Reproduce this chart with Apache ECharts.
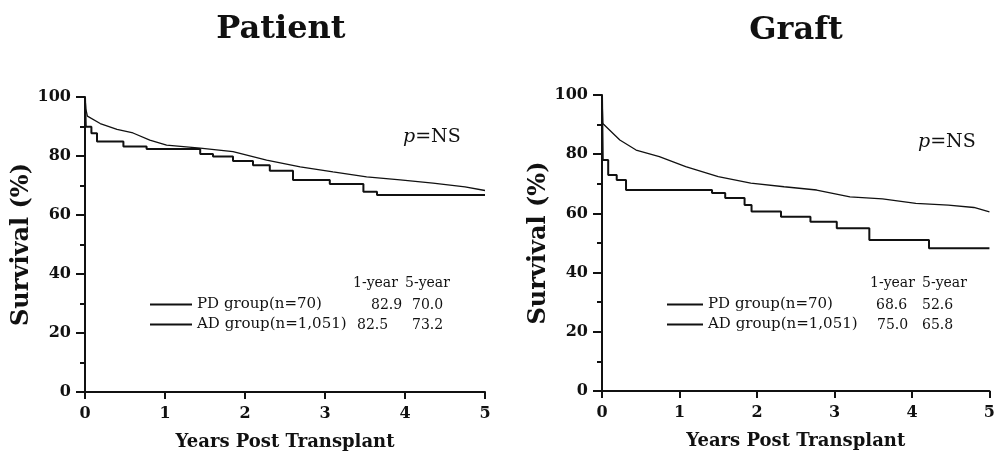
<!DOCTYPE html>
<html>
<head>
<meta charset="utf-8">
<script src="https://cdn.jsdelivr.net/npm/echarts@6/dist/echarts.min.js"></script>
<style>
  html, body { margin: 0; padding: 0; background: #fff; }
  #main { width: 998px; height: 456px; }
</style>
</head>
<body>
<div id="main"></div>
<script>
// [years post transplant, survival %]
const patientPD = [[0, 100], [0.01, 89.9], [0.08, 87.7], [0.15, 84.9], [0.48, 83.2], [0.77, 82.4], [1.44, 80.7], [1.6, 79.8], [1.85, 78.3], [2.1, 76.9], [2.31, 75.0], [2.6, 71.9], [3.06, 70.5], [3.48, 67.9], [3.65, 66.8], [5, 66.8]]
const patientAD = [[0, 100], [0.01, 96], [0.03, 93.5], [0.19, 91], [0.4, 89], [0.6, 87.8], [0.81, 85.4], [1.02, 83.7], [1.44, 82.7], [1.85, 81.5], [2.27, 78.6], [2.69, 76.3], [3.1, 74.6], [3.52, 72.9], [3.94, 71.9], [4.35, 70.8], [4.75, 69.5], [5, 68.3]]
const graftPD = [[0, 100], [0.01, 78], [0.08, 73], [0.19, 71.3], [0.31, 67.9], [1.42, 66.9], [1.59, 65.2], [1.84, 62.8], [1.93, 60.6], [2.31, 58.9], [2.69, 57.2], [3.03, 55], [3.45, 51], [4.22, 48.2], [5, 48.2]]
const graftAD = [[0, 100], [0.01, 90.4], [0.23, 84.8], [0.44, 81.4], [0.74, 79.2], [1.08, 75.8], [1.5, 72.4], [1.92, 70.2], [2.35, 69], [2.77, 67.9], [3.2, 65.6], [3.62, 64.9], [4.05, 63.4], [4.47, 62.8], [4.8, 62], [5, 60.5]]

const groupNames = ['PD group(n=70)', 'AD group(n=1,051)']
const rateHeaders = ['1-year', '5-year']
const patientRates = [['82.9', '70.0'], ['82.5', '73.2']]
const graftRates = [['68.6', '52.6'], ['75.0', '65.8']]
const panelTitles = ['Patient', 'Graft']

const chart = echarts.init(document.getElementById('main'))

const serif = 'DejaVu Serif'

function xAxisFor(idx) {
  return {
    type: 'value', gridIndex: idx, min: 0, max: 5, interval: 1,
    name: 'Years Post Transplant', nameLocation: 'middle', nameGap: 41,
    nameTextStyle: {fontFamily: serif, fontWeight: 'bold', fontSize: 18, color: '#111'},
    axisLine: {lineStyle: {color: '#111', width: 2}},
    axisTick: {length: 7, lineStyle: {color: '#111', width: 2}},
    axisLabel: {fontFamily: serif, fontWeight: 'bold', fontSize: 16, color: '#111', margin: 14},
    splitLine: {show: false}
  }
}

function yAxisFor(idx) {
  return {
    type: 'value', gridIndex: idx, min: 0, max: 100, interval: 20,
    name: 'Survival (%)', nameLocation: 'middle', nameGap: 47,
    nameTextStyle: {fontFamily: serif, fontWeight: 'bold', fontSize: 24, color: '#111'},
    axisLine: {lineStyle: {color: '#111', width: 2}},
    axisTick: {length: 9, lineStyle: {color: '#111', width: 2}},
    minorTick: {show: true, splitNumber: 2, length: 5, lineStyle: {color: '#111', width: 2}},
    axisLabel: {fontFamily: serif, fontWeight: 'bold', fontSize: 16, color: '#111', margin: 14},
    splitLine: {show: false}
  }
}

function tableTexts(x0, rates, pX) {
  const cols = [x0, x0 + 52]
  const out = []
  rateHeaders.forEach((h, i) => out.push({
    type: 'text', x: cols[i], y: 283,
    style: {text: h, font: '14px ' + serif, fill: '#111', verticalAlign: 'middle'}
  }))
  rates.forEach((row, r) => row.forEach((v, c) => out.push({
    type: 'text', x: pX[r][c], y: 305 + r * 20,
    style: {text: v, font: '14px ' + serif, fill: '#111', verticalAlign: 'middle'}
  })))
  return out
}

function pText(x, y) {
  return {
    type: 'text', x: x, y: y,
    style: {
      text: '{i|p}=NS',
      font: '19px ' + serif, fill: '#111', verticalAlign: 'middle',
      rich: {i: {fontFamily: serif, fontStyle: 'italic', fontSize: 19, fill: '#111'}}
    }
  }
}

function legendFor(left, top, name, w) {
  return {
    left: left, top: top, padding: 0, icon: 'rect', itemWidth: w, itemHeight: 2,
    data: [name], selectedMode: false,
    textStyle: {fontFamily: serif, fontSize: 15, color: '#111'}
  }
}

chart.setOption({
  animation: false,
  backgroundColor: '#fff',
  grid: [
    {left: 85, top: 97, width: 400, height: 295},
    {left: 602, top: 95, width: 393, height: 296}
  ],
  xAxis: [xAxisFor(0), xAxisFor(1)],
  yAxis: [yAxisFor(0), yAxisFor(1)],
  legend: [
    legendFor(150, 297, groupNames[0], 42),
    legendFor(150, 317, groupNames[1], 42),
    legendFor(667, 297, groupNames[0], 36),
    legendFor(667, 317, groupNames[1], 36)
  ],
  graphic: [
    {type: 'text', x: 281, y: 30, style: {text: panelTitles[0], font: 'bold 32px ' + serif, fill: '#111', align: 'center', verticalAlign: 'middle'}},
    {type: 'text', x: 796, y: 31, style: {text: panelTitles[1], font: 'bold 32px ' + serif, fill: '#111', align: 'center', verticalAlign: 'middle'}},
    pText(403, 137),
    pText(918, 142),
    ...tableTexts(353, patientRates, [[371, 412], [357, 412]]),
    ...tableTexts(870, graftRates, [[876, 922], [877, 922]])
  ],
  series: [
    {name: groupNames[0], type: 'line', xAxisIndex: 0, yAxisIndex: 0, step: 'end', showSymbol: false, symbol: 'none',
      data: patientPD, lineStyle: {color: '#111', width: 2}, itemStyle: {color: '#111'}},
    {name: groupNames[1], type: 'line', xAxisIndex: 0, yAxisIndex: 0, showSymbol: false, symbol: 'none',
      data: patientAD, lineStyle: {color: '#111', width: 1.3}, itemStyle: {color: '#111'}},
    {name: groupNames[0], type: 'line', xAxisIndex: 1, yAxisIndex: 1, step: 'end', showSymbol: false, symbol: 'none',
      data: graftPD, lineStyle: {color: '#111', width: 2}, itemStyle: {color: '#111'}},
    {name: groupNames[1], type: 'line', xAxisIndex: 1, yAxisIndex: 1, showSymbol: false, symbol: 'none',
      data: graftAD, lineStyle: {color: '#111', width: 1.3}, itemStyle: {color: '#111'}}
  ]
})
</script>
</body>
</html>
